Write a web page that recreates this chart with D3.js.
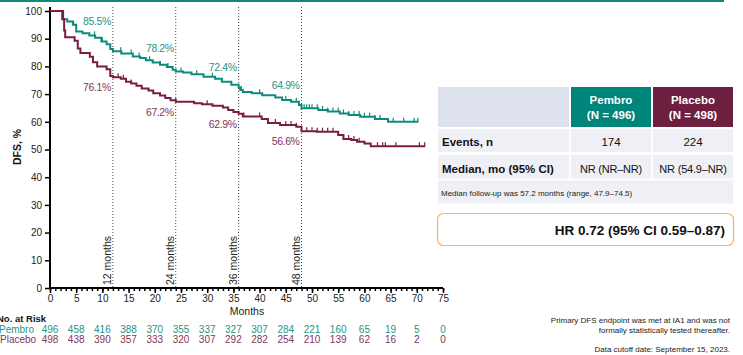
<!DOCTYPE html>
<html><head><meta charset="utf-8">
<script src="https://cdn.jsdelivr.net/npm/d3@7"></script>
<style>
html,body{margin:0;padding:0;background:#fff;}
svg{display:block;font-family:"Liberation Sans",Arial,sans-serif;}
</style></head>
<body><svg id="c" width="743" height="355"></svg>
<script>
// ---- data ----
const pembroSteps = [[0,100],[2.3,97],[3.3,96.2],[4.4,95],[5.0,92.6],[6.2,92],[7.5,91.2],[8.6,90.3],[9.8,89],[10.8,88],[11.5,86.3],[12.0,85.5],[13.6,84.7],[15.8,83.6],[17.2,83],[18.3,82.2],[19.6,81.4],[21.0,80.6],[22.3,79.8],[23.4,78.8],[24.0,78.2],[25.4,77.8],[27,77.2],[29.3,76.3],[31.5,75.5],[32.8,74.5],[34.6,73.4],[36.0,72.4],[36.3,71.5],[36.8,70.8],[38.5,70.3],[40.5,69.6],[43,68.8],[44.3,67.9],[46,67.2],[47.5,66.1],[48.0,64.9],[51.2,64.3],[53,63.7],[55.3,63.0],[57,62.5],[59.2,61.8],[62,61],[64.5,60.0],[70.3,60.0]];
const placeboSteps = [[0,100],[2.5,97],[2.7,93],[2.9,90.5],[4.7,89.3],[5.3,86.5],[5.8,84.8],[7.6,83.5],[8.2,81.5],[9.0,80],[10.8,79],[11.5,76.5],[12,76.1],[13.5,75.5],[14.5,74.5],[15.5,73.8],[16.5,73],[17.5,72],[18.8,71.3],[19.7,70.3],[21,69.5],[22,68.6],[23,67.8],[24,67.2],[27.5,66.7],[29,66.3],[31,65.8],[33,65.2],[34,64.3],[35,63.5],[36,62.9],[36.8,61.9],[40.4,61],[41.6,59.6],[43.9,58.8],[47.0,58.2],[48,56.6],[50.9,56.4],[55,55.2],[56,53.8],[57.5,53.4],[58.6,52.8],[60,52.2],[61.2,51.2],[71.6,51.2]];
const pembroCensor = [4.5,8.5,10,13.5,15.5,17,19,21,22.5,25,28,31,36.5,40,45,47,48.5,49,49.5,50,51,52,53,54,55,56,57,58,59,60,61,62,63,65.5,67.5,69.5,70.2];
const placeboCensor = [13,14,15.5,24,30,37,40,43,45,46,47,48,49,50,51,52,53,54,55,56,57,58,59,62.5,63.5,64,66,70.5,71.5];
const landmarks = [12,24,36,48];
const pembroLandmarkLabels = ["85.5%","78.2%","72.4%","64.9%"];
const placeboLandmarkLabels = ["76.1%","67.2%","62.9%","56.6%"];
const riskTimes = [0,5,10,15,20,25,30,35,40,45,50,55,60,65,70,75];
const pembroRisk = [496,458,416,388,370,355,337,327,307,284,221,160,65,19,5,0];
const placeboRisk = [498,438,390,357,333,320,307,292,282,254,210,139,62,16,2,0];
const yTicks = [0,10,20,30,40,50,60,70,80,90,100];
const xTicks = d3.range(0,76,5);

const GREEN = "#0E8A7D", MAROON = "#7A1D44";
const GREEN_T = "#1F9587", MAROON_T = "#86365A";

const svg = d3.select("#c");
const x = d3.scaleLinear().domain([0,75]).range([50,443]);
const y = d3.scaleLinear().domain([0,100]).range([288,11]);

// top rule
svg.append("rect").attr("x",0).attr("y",0).attr("width",724).attr("height",2).attr("fill","#0E8A7D");

// landmark dotted lines
landmarks.forEach(m=>{
  svg.append("line").attr("x1",x(m)).attr("x2",x(m)).attr("y1",7).attr("y2",288)
    .attr("stroke","#444").attr("stroke-width",1).attr("stroke-dasharray","1,2");
  svg.append("text").attr("transform",`translate(${x(m)-2},285) rotate(-90)`)
    .attr("font-size",10.5).attr("fill","#222").text(m+" months");
});

// axes
const yAxis = d3.axisLeft(y).tickValues(yTicks).tickSize(5).tickPadding(3);
const gy = svg.append("g").attr("transform","translate(50,0)").call(yAxis);
gy.select(".domain").attr("d","M0,7V288").attr("stroke","#000").attr("stroke-width",2);
gy.selectAll(".tick line").attr("stroke","#000").attr("stroke-width",1.5);
gy.selectAll("text").attr("font-size",10).attr("fill","#222").attr("font-family","Liberation Sans, Arial, sans-serif");

const gxm = svg.append("g").attr("transform","translate(0,288)")
  .call(d3.axisBottom(x).tickValues(d3.range(0,76,1)).tickSize(3).tickFormat(""));
gxm.select(".domain").remove();
gxm.selectAll(".tick line").attr("stroke","#000").attr("stroke-width",1.5);
const gx = svg.append("g").attr("transform","translate(0,288)")
  .call(d3.axisBottom(x).tickValues(xTicks).tickSize(5).tickPadding(2));
gx.select(".domain").attr("d","M49,0H443").attr("stroke","#000").attr("stroke-width",2);
gx.selectAll(".tick line").attr("stroke","#000").attr("stroke-width",1.5);
gx.selectAll("text").attr("font-size",10).attr("fill","#222").attr("font-family","Liberation Sans, Arial, sans-serif");

svg.append("text").attr("x",247).attr("y",315).attr("text-anchor","middle").attr("font-size",10.5).attr("fill","#222").text("Months");
svg.append("text").attr("transform","translate(21,147) rotate(-90)").attr("text-anchor","middle")
  .attr("font-size",10.5).attr("font-weight","bold").attr("fill","#111").text("DFS, %");

// curves
const line = d3.line().x(d=>x(d[0])).y(d=>y(d[1])).curve(d3.curveStepAfter);
function survAt(steps,t){let v=steps[0][1];for(const s of steps){if(s[0]<=t)v=s[1];}return v;}
[[pembroSteps,pembroCensor,GREEN],[placeboSteps,placeboCensor,MAROON]].forEach(([st,cs,col])=>{
  svg.append("path").attr("d",line(st)).attr("fill","none").attr("stroke",col).attr("stroke-width",2);
  svg.append("g").selectAll("line").data(cs).join("line")
    .attr("x1",d=>x(d)).attr("x2",d=>x(d))
    .attr("y1",d=>y(survAt(st,d))).attr("y2",d=>y(survAt(st,d))-4)
    .attr("stroke",col).attr("stroke-width",1.2);
});

// landmark labels (pembro placed above the curve over the label's span)
landmarks.forEach((m,i)=>{
  svg.append("text").attr("x",x(m)-2).attr("y",y(survAt(pembroSteps,m-6))-6).attr("text-anchor","end")
    .attr("font-size",10.5).attr("letter-spacing",-0.4).attr("fill",GREEN_T).text(pembroLandmarkLabels[i]);
  svg.append("text").attr("x",x(m)-2).attr("y",y(survAt(placeboSteps,m))+14).attr("text-anchor","end")
    .attr("font-size",10.5).attr("letter-spacing",-0.4).attr("fill",MAROON_T).text(placeboLandmarkLabels[i]);
});

// number at risk
svg.append("text").attr("x",-3).attr("y",321.5).attr("font-size",9.5).attr("font-weight","bold").attr("fill","#111").text("No. at Risk");
svg.append("text").attr("x",-1).attr("y",332.5).attr("font-size",10).attr("fill",GREEN_T).text("Pembro");
svg.append("text").attr("x",0).attr("y",343).attr("font-size",10).attr("fill",MAROON_T).text("Placebo");
riskTimes.forEach((t,i)=>{
  svg.append("text").attr("x",x(t)).attr("y",332.5).attr("text-anchor","middle").attr("font-size",10).attr("fill",GREEN_T).text(pembroRisk[i]);
  svg.append("text").attr("x",x(t)).attr("y",343).attr("text-anchor","middle").attr("font-size",10).attr("fill",MAROON_T).text(placeboRisk[i]);
});

// table
const T = svg.append("g");
const c0=438, c1=571, c2=653, c3=733;
T.append("rect").attr("x",c0).attr("y",87).attr("width",c1-2-c0).attr("height",40).attr("fill","#DDE2EC");
T.append("rect").attr("x",c1).attr("y",87).attr("width",c2-2-c1).attr("height",40).attr("fill","#00857A");
T.append("rect").attr("x",c2).attr("y",87).attr("width",c3-c2).attr("height",40).attr("fill","#6E1E3F");
[[129,23],[155,23.5]].forEach(([yy,h])=>{
  T.append("rect").attr("x",c0).attr("y",yy).attr("width",c1-2-c0).attr("height",h).attr("fill","#EEF0F5");
  T.append("rect").attr("x",c1).attr("y",yy).attr("width",c2-2-c1).attr("height",h).attr("fill","#EEF0F5");
  T.append("rect").attr("x",c2).attr("y",yy).attr("width",c3-c2).attr("height",h).attr("fill","#EEF0F5");
});
T.append("rect").attr("x",c0).attr("y",180.5).attr("width",c3-c0).attr("height",23).attr("fill","#EEF0F5");
const hdr=(cx,a,b)=>{
  T.append("text").attr("x",cx).attr("y",104).attr("text-anchor","middle").attr("font-size",11.5).attr("font-weight","bold").attr("fill","#fff").text(a);
  T.append("text").attr("x",cx).attr("y",119).attr("text-anchor","middle").attr("font-size",11.5).attr("font-weight","bold").attr("fill","#fff").text(b);
};
hdr(611,"Pembro","(N = 496)");
hdr(693,"Placebo","(N = 498)");
T.append("text").attr("x",442).attr("y",146).attr("font-size",11.5).attr("font-weight","bold").attr("fill","#111").text("Events, n");
T.append("text").attr("x",611).attr("y",146).attr("text-anchor","middle").attr("font-size",11.5).attr("fill","#111").text("174");
T.append("text").attr("x",693).attr("y",146).attr("text-anchor","middle").attr("font-size",11.5).attr("fill","#111").text("224");
T.append("text").attr("x",442).attr("y",172.5).attr("font-size",11.5).attr("font-weight","bold").attr("fill","#111").text("Median, mo (95% CI)");
T.append("text").attr("x",611).attr("y",172.5).attr("text-anchor","middle").attr("font-size",11).attr("fill","#111").attr("letter-spacing",-0.2).text("NR (NR–NR)");
T.append("text").attr("x",693).attr("y",172.5).attr("text-anchor","middle").attr("font-size",11).attr("fill","#111").attr("letter-spacing",-0.2).text("NR (54.9–NR)");
T.append("text").attr("x",441).attr("y",195.5).attr("font-size",8).attr("fill","#222").text("Median follow-up was 57.2 months (range, 47.9–74.5)");

T.append("rect").attr("x",437.5).attr("y",213.5).attr("width",296).attr("height",32).attr("rx",6)
  .attr("fill","#fff").attr("stroke","#F0B474").attr("stroke-width",1.2);
T.append("text").attr("x",725).attr("y",234.5).attr("text-anchor","end").attr("font-size",13.5).attr("font-weight","bold").attr("fill","#111").text("HR 0.72 (95% CI 0.59–0.87)");

// footnotes
svg.append("text").attr("x",730).attr("y",323).attr("text-anchor","end").attr("font-size",8).attr("fill","#222").text("Primary DFS endpoint was met at IA1 and was not");
svg.append("text").attr("x",730).attr("y",333).attr("text-anchor","end").attr("font-size",8).attr("fill","#222").text("formally statistically tested thereafter.");
svg.append("text").attr("x",730).attr("y",352).attr("text-anchor","end").attr("font-size",8).attr("fill","#222").text("Data cutoff date: September 15, 2023.");
</script></body></html>
